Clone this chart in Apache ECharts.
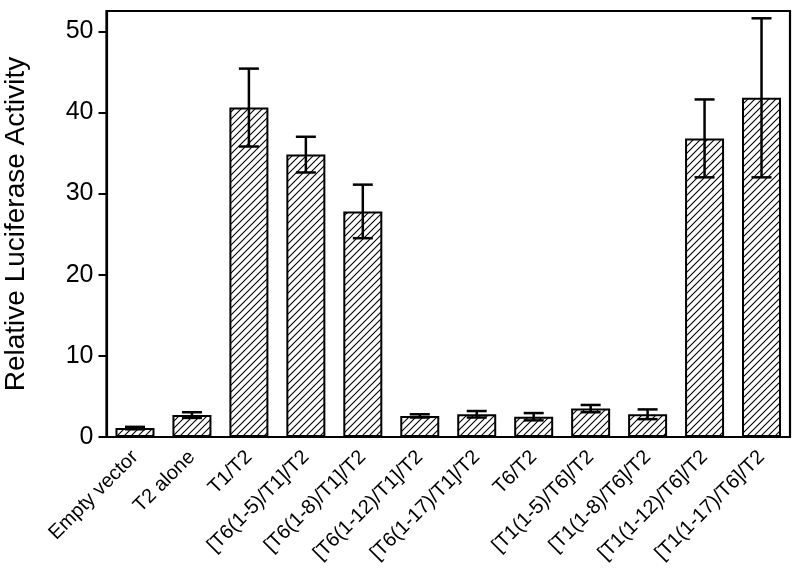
<!DOCTYPE html>
<html><head><meta charset="utf-8">
<script src="https://cdn.jsdelivr.net/npm/echarts@6/dist/echarts.min.js"></script>
<style>html,body{margin:0;padding:0;background:#fff}#c{width:800px;height:579px}</style>
</head><body><div id="c"></div>
<script>
const categories = ["Empty vector","T2 alone","T1/T2","[T6(1-5)/T1]/T2","[T6(1-8)/T1]/T2","[T6(1-12)/T1]/T2","[T6(1-17)/T1]/T2","T6/T2","[T1(1-5)/T6]/T2","[T1(1-8)/T6]/T2","[T1(1-12)/T6]/T2","[T1(1-17)/T6]/T2"];
const means = [1.1, 2.7, 40.6, 34.8, 27.8, 2.6, 2.8, 2.5, 3.5, 2.8, 36.8, 41.8];
const errors = [0.15, 0.35, 4.8, 2.2, 3.3, 0.2, 0.4, 0.45, 0.45, 0.6, 4.8, 9.8];
const yTicks = [0, 10, 20, 30, 40, 50];

function hatch(){
  const s = 7, c = document.createElement('canvas');
  c.width = s; c.height = s;
  const g = c.getContext('2d');
  g.fillStyle = '#fff'; g.fillRect(0,0,s,s);
  g.strokeStyle = '#000'; g.lineWidth = 1.1;
  g.beginPath();
  g.moveTo(-1, s+1); g.lineTo(s+1, -1);
  g.moveTo(-1, 1); g.lineTo(1, -1);
  g.moveTo(s-1, s+1); g.lineTo(s+1, s-1);
  g.stroke();
  return c;
}
const FONT = '"Liberation Sans", Arial, sans-serif';
const chart = echarts.init(document.getElementById('c'));
chart.setOption({
  animation: false,
  backgroundColor: '#fff',
  grid: {left: 106.5, right: 10, top: 11, bottom: 142, containLabel: false, outerBoundsMode: 'none',
         show: true, borderColor: '#000', borderWidth: 2.2},
  xAxis: {
    type: 'category', data: categories,
    axisLine: {lineStyle: {color: '#000', width: 2.2}},
    axisTick: {alignWithLabel: true, length: 8, lineStyle: {color: '#000', width: 2}},
    axisLabel: {rotate: 45, interval: 0, fontSize: 20, color: '#000', margin: 17, fontFamily: FONT}
  },
  yAxis: {
    type: 'value', min: 0, max: 52.5,
    name: 'Relative Luciferase Activity', nameLocation: 'middle', nameGap: 76,
    nameTextStyle: {fontSize: 28, color: '#000', fontFamily: FONT},
    splitLine: {show: false},
    axisLine: {show: true, lineStyle: {color: '#000', width: 2.2}},
    axisTick: {show: true, length: 8, customValues: yTicks, lineStyle: {color: '#000', width: 2}},
    axisLabel: {customValues: yTicks, fontSize: 25, color: '#000', margin: 13, fontFamily: FONT}
  },
  series: [{
    type: 'bar', data: means, barWidth: 39,
    itemStyle: {color: {image: hatch(), repeat: 'repeat'}, borderColor: '#000', borderWidth: 2}
  }, {
    type: 'custom', z: 5,
    data: categories.map((c, i) => [i, means[i], errors[i]]),
    renderItem: function(params, api){
      const x = api.value(0), m = api.value(1), e = api.value(2);
      const t = api.coord([x, m + e]), b = api.coord([x, m - e]);
      const w = 10;
      const st = {stroke: '#000', lineWidth: 2.5};
      return {type: 'group', children: [
        {type: 'line', shape: {x1: t[0], y1: t[1], x2: b[0], y2: b[1]}, style: st},
        {type: 'line', shape: {x1: t[0]-w, y1: t[1], x2: t[0]+w, y2: t[1]}, style: st},
        {type: 'line', shape: {x1: b[0]-w, y1: b[1], x2: b[0]+w, y2: b[1]}, style: st}
      ]};
    }
  }]
});
</script></body></html>
